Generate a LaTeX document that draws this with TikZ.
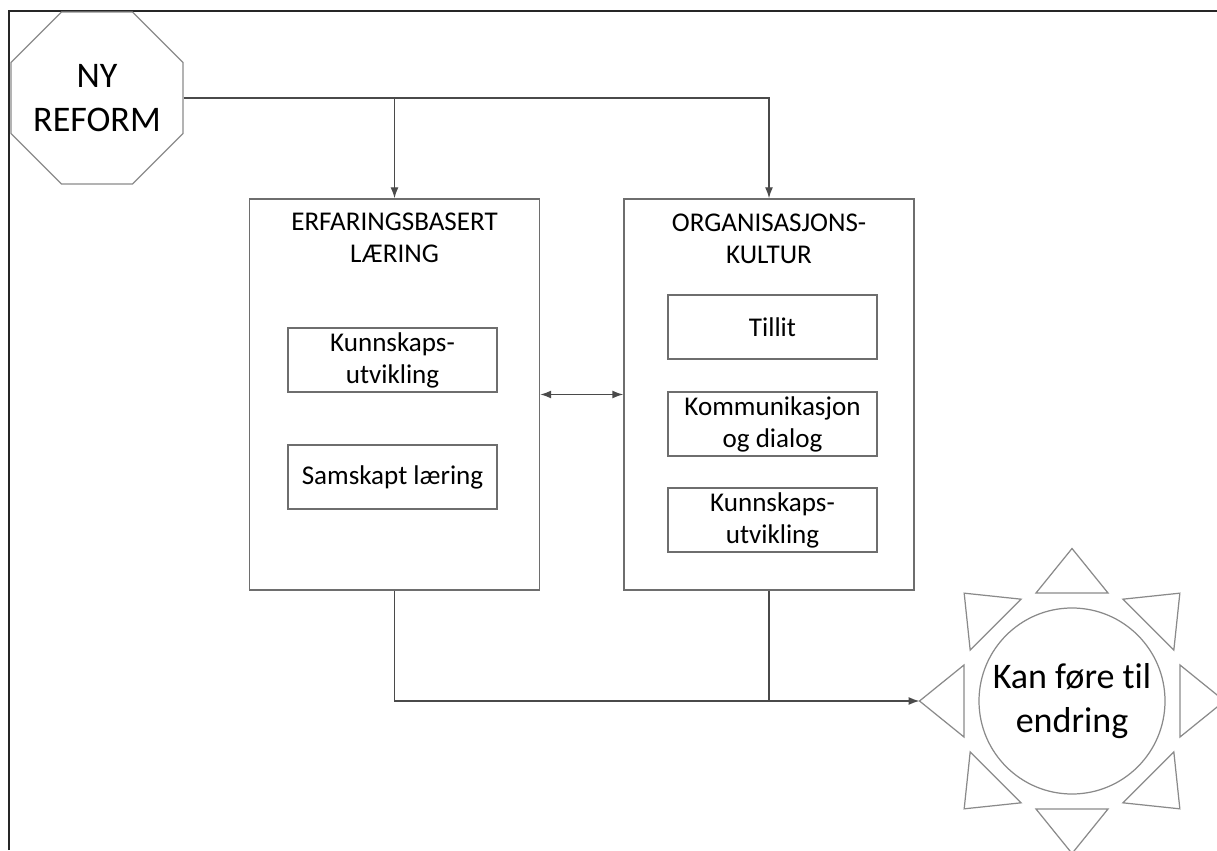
\documentclass[tikz,border=0pt]{standalone}
\usepackage{fontspec}
\setmainfont{Carlito}[Ligatures=NoCommon]
\usetikzlibrary{shapes.geometric, arrows.meta}
\definecolor{boxgray}{HTML}{6E6E6E}
\definecolor{shapegray}{HTML}{8A8A8A}
\definecolor{linegray}{HTML}{4A4A4A}
\newcommand{\boxtext}{\fontsize{15.4}{18.2}\selectfont}
\newcommand{\bigtext}{\fontsize{20.5}{25.5}\selectfont}
\tikzset{
	outerbox/.style={shape=rectangle, draw=boxgray, line width=0.8pt, minimum width=5.8cm, minimum height=7.82cm},
	innerbox/.style={shape=rectangle, draw=boxgray, line width=0.8pt, minimum width=4.18cm, minimum height=1.28cm, align=center, inner sep=0pt, font=\boxtext},
	heading/.style={align=center, inner sep=0pt, font=\boxtext},
	link/.style={draw=linegray, line width=0.8pt},
	arr/.style={-{Latex[length=2.2mm, width=1.6mm]}}
}
\begin{document}
\begin{tikzpicture}
	\useasboundingbox (0, 0) rectangle (24.34, 17);
	% Frame:
	\draw[line width=1.1pt, black!85] (0.18, 0) -- (0.18, 16.78) -- (24.34, 16.78);
	% Start and goal:
	\node[shape=regular polygon, regular polygon sides=8, draw=shapegray, line width=0.7pt, minimum size=3.72cm, inner sep=0pt] (reform) at (1.94, 15.04) {};
	\node[align=center, inner sep=0pt, font=\bigtext] (reformText) at (reform.center) {NY\\REFORM};
	\node[shape=circle, draw=shapegray, line width=0.7pt, minimum size=3.72cm, inner sep=0pt, align=center, font=\bigtext] (sun) at (21.44, 2.98) {Kan føre til\\endring};
	\foreach \a in {0, 45, ..., 315}
		\draw[shapegray, line width=0.7pt, shift={(sun.center)}, rotate=\a] (2.16, 0.72) -- (3.05, 0) -- (2.16, -0.72) -- cycle;
	\coordinate (sunTip) at (18.39, 2.98);
	% Boxes:
	\node[outerbox] (erf) at (7.89, 9.11) {};
	\node[heading] (erfHead) at (7.89, 12.24) {ERFARINGSBASERT\\LÆRING};
	\node[innerbox] (erfA) at (7.85, 9.8) {Kunnskaps-\\utvikling};
	\node[innerbox] (erfB) at (7.85, 7.46) {Samskapt læring};
	\node[outerbox] (org) at (15.38, 9.11) {};
	\node[heading] (orgHead) at (15.38, 12.22) {ORGANISASJONS-\\KULTUR};
	\node[innerbox] (orgA) at (15.45, 10.46) {Tillit};
	\node[innerbox] (orgB) at (15.45, 8.52) {Kommunikasjon\\og dialog};
	\node[innerbox] (orgC) at (15.45, 6.6) {Kunnskaps-\\utvikling};
	% Wires:
	\draw[link, arr] (reform.east) -| (org.north);
	\draw[link, arr] (reform.east -| erf.north) -- (erf.north);
	\draw[link, {Latex[length=2.2mm, width=1.6mm]}-{Latex[length=2.2mm, width=1.6mm]}] (erf.east) -- (org.west);
	\draw[link, arr] (erf.south) |- (sunTip);
	\draw[link] (org.south) -- (org.south |- sunTip);
\end{tikzpicture}
\end{document}
